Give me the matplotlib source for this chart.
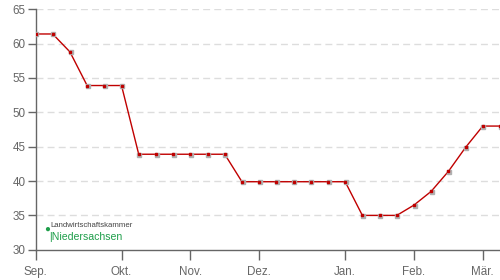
import matplotlib
matplotlib.use('Agg')
import matplotlib.pyplot as plt

# weekly prices, Sep .. Mar
prices = [61.4, 61.4, 58.8, 53.9, 53.9, 53.9, 43.9, 43.9, 43.9, 43.9, 43.9, 43.9,
          39.9, 39.9, 39.9, 39.9, 39.9, 39.9, 39.9, 35.0, 35.0, 35.0, 36.5, 38.5,
          41.4, 44.9, 48.0, 48.0]
weeks = list(range(len(prices)))
month_pos = [0, 5, 9, 13, 18, 22, 26]
month_labels = ['Sep.', 'Okt.', 'Nov.', 'Dez.', 'Jan.', 'Feb.', 'Mär.']
y_ticks = [30, 35, 40, 45, 50, 55, 60, 65]

plt.rcParams['font.family'] = ['Liberation Sans', 'DejaVu Sans']

fig = plt.figure(figsize=(5, 2.8), dpi=100)
ax = fig.add_axes([0.071, 0.108, 0.929, 0.859])

for v in y_ticks[1:]:
    ax.axhline(v, color='#dddddd', linewidth=1, linestyle=(0, (5, 3)), zorder=0)

ax.plot(weeks, prices, color='#c00000', linewidth=1.0, zorder=3)
ax.plot([w + 0.04 for w in weeks], [p - 0.07 for p in prices], linestyle='none',
        marker='s', markersize=2.2, color='#b0b0b0', zorder=3)
ax.plot(weeks, prices, linestyle='none', marker='s', markersize=2.0,
        color='#c00000', zorder=4)

ax.set_xlim(0, 27)
ax.set_ylim(30, 65)
ax.set_xticks(month_pos)
ax.set_xticklabels(month_labels)
ax.set_yticks(y_ticks)

for s in ['top', 'right']:
    ax.spines[s].set_visible(False)
for s in ['left', 'bottom']:
    ax.spines[s].set_color('#666666')
    ax.spines[s].set_linewidth(1.0)

ax.tick_params(axis='x', direction='out', length=7, width=1, color='#666666',
               labelcolor='#666666', labelsize=8.4, pad=5)
ax.tick_params(axis='y', direction='out', length=6, width=1, color='#666666',
               labelcolor='#666666', labelsize=8.4, pad=1)

# logo
green = '#1e9e4a'
fig.text(0.095, 0.182, '\u25cf', color=green, fontsize=7, ha='center', va='center')
fig.text(0.101, 0.193, 'Landwirtschaftskammer', color='#444444', fontsize=5.6,
         ha='left', va='center')
fig.text(0.099, 0.155, '|Niedersachsen', color=green, fontsize=7.6,
         ha='left', va='center')

fig.savefig('out.png', dpi=100)
